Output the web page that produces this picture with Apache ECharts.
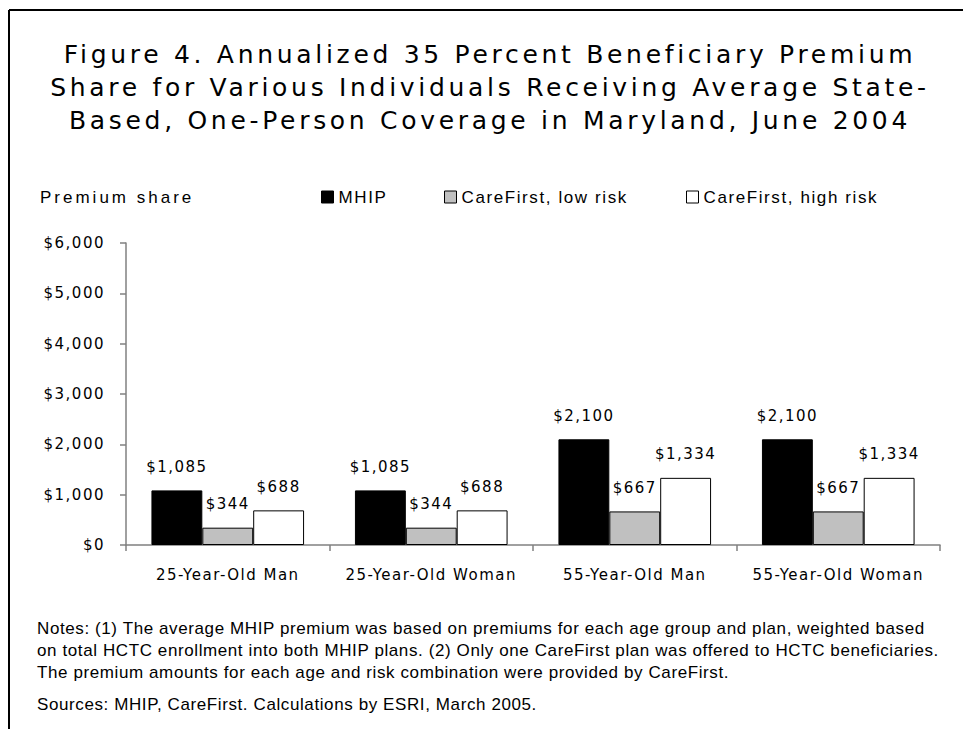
<!DOCTYPE html>
<html>
<head>
<meta charset="utf-8">
<script src="https://cdn.jsdelivr.net/npm/echarts@6/dist/echarts.min.js"></script>
<style>
  html, body { margin: 0; padding: 0; background: #fff; }
  #chart { width: 963px; height: 729px; }
  #chart text[style*="Century"] { letter-spacing: 3.7px; }
  #chart text[style*="Verdana"] { letter-spacing: 1.5px; }
  #chart text[style*="Helvetica"] { letter-spacing: 1.6px; }
  #chart text[style*="Tahoma"] { letter-spacing: 3px; }
  #chart text[style*="Arial"] { letter-spacing: 0.6px; }
</style>
</head>
<body>
<div id="chart"></div>
<script>
// ---- data ----
const categories = ['25-Year-Old Man', '25-Year-Old Woman', '55-Year-Old Man', '55-Year-Old Woman'];
const seriesNames = ['MHIP', 'CareFirst, low risk', 'CareFirst, high risk'];
const mhipValues = [1085, 1085, 2100, 2100];
const lowRiskValues = [344, 344, 667, 667];
const highRiskValues = [688, 688, 1334, 1334];
const yMin = 0, yMax = 6000, yInterval = 1000;
const titleLines = [
  'Figure 4. Annualized 35 Percent Beneficiary Premium',
  'Share for Various Individuals Receiving Average State-',
  'Based, One-Person Coverage in Maryland, June 2004'
];
const yAxisTitle = 'Premium share';
const noteLines = [
  'Notes: (1) The average MHIP premium was based on premiums for each age group and plan, weighted based',
  'on total HCTC enrollment into both MHIP plans. (2) Only one CareFirst plan was offered to HCTC beneficiaries.',
  'The premium amounts for each age and risk combination were provided by CareFirst.'
];
const sourceLine = 'Sources: MHIP, CareFirst. Calculations by ESRI, March 2005.';

// ---- styles ----
const TITLE_FONT = "'Century Gothic', 'DejaVu Sans', sans-serif";
const AXIS_FONT = "Verdana, 'DejaVu Sans', sans-serif";
const LEGEND_FONT = "Helvetica, 'Liberation Sans', sans-serif";
const AXIS_TITLE_FONT = "Tahoma, 'Liberation Sans', sans-serif";
const NOTE_FONT = "Arial, 'Liberation Sans', sans-serif";
const barColors = ['#000000', '#c0c0c0', '#ffffff'];
const money = v => '$' + Number(v).toLocaleString('en-US');

const chart = echarts.init(document.getElementById('chart'), null, { renderer: 'svg' });

const graphics = [];
// frame
graphics.push({ type: 'line', shape: { x1: 9, y1: 10, x2: 963, y2: 10 }, style: { stroke: '#000', lineWidth: 2 } });
graphics.push({ type: 'line', shape: { x1: 9, y1: 10, x2: 9, y2: 729 }, style: { stroke: '#000', lineWidth: 2 } });
// title
const titleY = [54, 87, 120];
titleLines.forEach((t, i) => {
  graphics.push({
    type: 'text', x: 490, y: titleY[i],
    style: { text: t, fontFamily: TITLE_FONT, fontSize: 25, fill: '#000',
      textAlign: 'center', textVerticalAlign: 'middle', align: 'center', verticalAlign: 'middle' }
  });
});
// axis title
graphics.push({
  type: 'text', x: 40, y: 197,
  style: { text: yAxisTitle, fontFamily: AXIS_TITLE_FONT, fontSize: 17, fill: '#000',
    textAlign: 'left', textVerticalAlign: 'middle', align: 'left', verticalAlign: 'middle' }
});
// notes
const noteY = [628, 650, 672];
noteLines.forEach((t, i) => {
  graphics.push({
    type: 'text', x: 37, y: noteY[i],
    style: { text: t, fontFamily: NOTE_FONT, fontSize: 17, fill: '#000',
      textAlign: 'left', textVerticalAlign: 'middle', align: 'left', verticalAlign: 'middle' }
  });
});
graphics.push({
  type: 'text', x: 37, y: 704,
  style: { text: sourceLine, fontFamily: NOTE_FONT, fontSize: 17, fill: '#000',
    textAlign: 'left', textVerticalAlign: 'middle', align: 'left', verticalAlign: 'middle' }
});

const legendLefts = [321, 444, 686];
const legends = seriesNames.map((n, i) => ({
  data: [{ name: n, icon: 'rect', itemStyle: { color: barColors[i], borderColor: '#000', borderWidth: 1 } }],
  left: legendLefts[i], top: 188, padding: 0,
  itemWidth: 12, itemHeight: 12, itemGap: 0,
  selectedMode: false,
  textStyle: { fontFamily: LEGEND_FONT, fontSize: 17, color: '#000', lineHeight: 18 }
}));

const valueSets = [mhipValues, lowRiskValues, highRiskValues];
const series = seriesNames.map((n, i) => ({
  name: n, type: 'bar', data: valueSets[i],
  barGap: '0%', barCategoryGap: '25%',
  itemStyle: { color: barColors[i], borderColor: '#000', borderWidth: 1 },
  label: { show: true, position: 'top', distance: 16, formatter: p => money(p.value),
    fontFamily: AXIS_FONT, fontSize: 15, color: '#000' },
  emphasis: { disabled: true },
  animation: false
}));

chart.setOption({
  animation: false,
  backgroundColor: '#fff',
  graphic: graphics,
  legend: legends,
  grid: { left: 126, right: 23, top: 243, bottom: 184, containLabel: false },
  xAxis: {
    type: 'category', data: categories,
    axisLine: { show: true, lineStyle: { color: '#808080', width: 1.5 } },
    axisTick: { show: true, length: 6, alignWithLabel: false, lineStyle: { color: '#808080', width: 1.5 } },
    axisLabel: { margin: 22, fontFamily: AXIS_FONT, fontSize: 15, color: '#000', interval: 0 },
    splitLine: { show: false }
  },
  yAxis: {
    type: 'value', min: yMin, max: yMax, interval: yInterval,
    axisLine: { show: true, lineStyle: { color: '#808080', width: 1.5 } },
    axisTick: { show: true, length: 6, lineStyle: { color: '#808080', width: 1.5 } },
    axisLabel: { margin: 21, fontFamily: AXIS_FONT, fontSize: 15, color: '#000', formatter: v => money(v) },
    splitLine: { show: false }
  },
  series: series
});
</script>
</body>
</html>
